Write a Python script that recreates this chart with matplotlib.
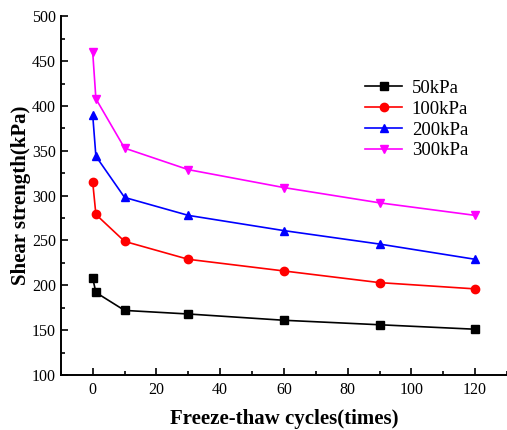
import matplotlib
matplotlib.use('Agg')
from matplotlib import pyplot as plt
from matplotlib.ticker import MultipleLocator

cycles = [0, 1, 10, 30, 60, 90, 120]
s50 = [208, 192, 172, 168, 161, 156, 151]
s100 = [315, 279, 249, 229, 216, 203, 196]
s200 = [390, 344, 298, 278, 261, 246, 229]
s300 = [460, 408, 353, 329, 309, 292, 278]
labels = ['50kPa', '100kPa', '200kPa', '300kPa']

plt.rcParams['font.family'] = ['Liberation Serif', 'DejaVu Serif']
plt.rcParams['xtick.direction'] = 'in'
plt.rcParams['ytick.direction'] = 'in'
plt.rcParams['xtick.major.pad'] = 5
plt.rcParams['xtick.labelsize'] = 11.5
plt.rcParams['ytick.labelsize'] = 11.5

fig = plt.figure(figsize=(5.07, 4.3), dpi=100)
ax = fig.add_axes([0.120, 0.128, 0.880, 0.834])

series = [s50, s100, s200, s300]
colors = ['black', 'red', 'blue', 'magenta']
markers = ['s', 'o', '^', 'v']
for vals, c, m, lab in zip(series, colors, markers, labels):
    ax.plot(cycles, vals, color=c, marker=m, markersize=6, lw=1.2, label=lab)

ax.set_xlim(-10, 130)
ax.set_ylim(100, 500)
ax.xaxis.set_major_locator(MultipleLocator(20))
ax.xaxis.set_minor_locator(MultipleLocator(10))
ax.yaxis.set_major_locator(MultipleLocator(50))
ax.yaxis.set_minor_locator(MultipleLocator(25))
ax.tick_params(which='major', length=5, width=1.2)
ax.tick_params(which='minor', length=3, width=1.2)
ax.spines['top'].set_visible(False)
ax.spines['right'].set_visible(False)
for s in ['left', 'bottom']:
    ax.spines[s].set_linewidth(1.4)

ax.set_xlabel('Freeze-thaw cycles(times)', fontsize=15, fontweight='bold', labelpad=8)
ax.set_ylabel('Shear strength(kPa)', fontsize=15, fontweight='bold', labelpad=1)

ax.legend(loc='upper left', bbox_to_anchor=(0.652, 0.86), frameon=False,
          fontsize=13.5, handlelength=2.0, handletextpad=0.5,
          labelspacing=0.2, borderpad=0.2)

fig.savefig('out.png', dpi=100)
